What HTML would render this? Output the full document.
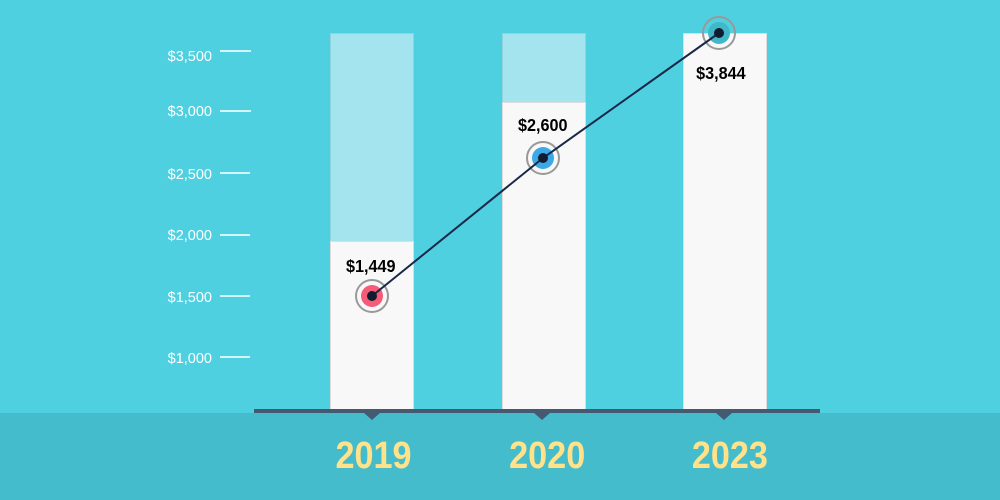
<!DOCTYPE html>
<html><head><style>html,body{margin:0;padding:0;width:1000px;height:500px;overflow:hidden;background:#4fd0e0}</style></head>
<body>
<svg width="1000" height="500" xmlns="http://www.w3.org/2000/svg">
<rect width="1000" height="500" fill="#4fd0e0"/>
<rect y="413" width="1000" height="87" fill="#45bccc"/>
<g stroke="#ffffff" stroke-width="1.5">
<line x1="220" y1="51" x2="251" y2="51"/>
<line x1="220" y1="111" x2="251" y2="111"/>
<line x1="220" y1="173" x2="250" y2="173"/>
<line x1="220" y1="235" x2="250" y2="235"/>
<line x1="220" y1="296" x2="250" y2="296"/>
<line x1="220" y1="357" x2="250" y2="357"/>
</g>
<g font-family="Liberation Sans, sans-serif" font-size="14.5" fill="#ffffff" text-anchor="end">
<text x="212" y="61">$3,500</text>
<text x="212" y="116">$3,000</text>
<text x="212" y="179">$2,500</text>
<text x="212" y="240">$2,000</text>
<text x="212" y="302">$1,500</text>
<text x="212" y="363">$1,000</text>
</g>
<g stroke="#8fd3dd" stroke-width="1">
<rect x="330.5" y="33.5" width="83" height="377" fill="#a3e4ee"/>
<rect x="502.5" y="33.5" width="83" height="377" fill="#a3e4ee"/>
</g>
<g fill="#f8f8f8" stroke="#dddddd" stroke-width="1">
<rect x="330.5" y="241.5" width="83" height="169"/>
<rect x="502.5" y="102.5" width="83" height="308"/>
<rect x="683.5" y="33.5" width="83" height="377"/>
</g>
<rect x="254" y="409" width="566" height="4" fill="#455a70"/>
<g fill="#455a70">
<polygon points="364,413 380,413 372,420"/>
<polygon points="534,413 550,413 542,420"/>
<polygon points="716,413 732,413 724,420"/>
</g>
<g stroke="#999" stroke-width="2" fill="none">
<circle cx="372" cy="296" r="16"/><circle cx="543" cy="158" r="16"/><circle cx="719" cy="33" r="16"/>
</g>
<circle cx="372" cy="296" r="11" fill="#f45c78"/>
<circle cx="543" cy="158" r="11" fill="#3ca8e8"/>
<circle cx="719" cy="33" r="11" fill="#40b8c8"/>
<polyline points="372,296 543,158 719,33" fill="none" stroke="#1a2848" stroke-width="2"/>
<g fill="#121c30"><circle cx="372" cy="296" r="5"/><circle cx="543" cy="158" r="5"/><circle cx="719" cy="33" r="5"/></g>
<g font-family="Liberation Sans, sans-serif" font-size="18" font-weight="bold" fill="#000" text-anchor="middle" transform="scale(0.9,1)">
<text x="412" y="272">$1,449</text>
<text x="603" y="131">$2,600</text>
<text x="801" y="79">$3,844</text>
</g>
<g font-family="Liberation Sans, sans-serif" font-size="38" font-weight="bold" fill="#ffe28a" text-anchor="middle" transform="scale(0.9,1)">
<text x="415" y="468">2019</text>
<text x="608" y="468">2020</text>
<text x="811" y="468">2023</text>
</g>
</svg>
</body></html>
